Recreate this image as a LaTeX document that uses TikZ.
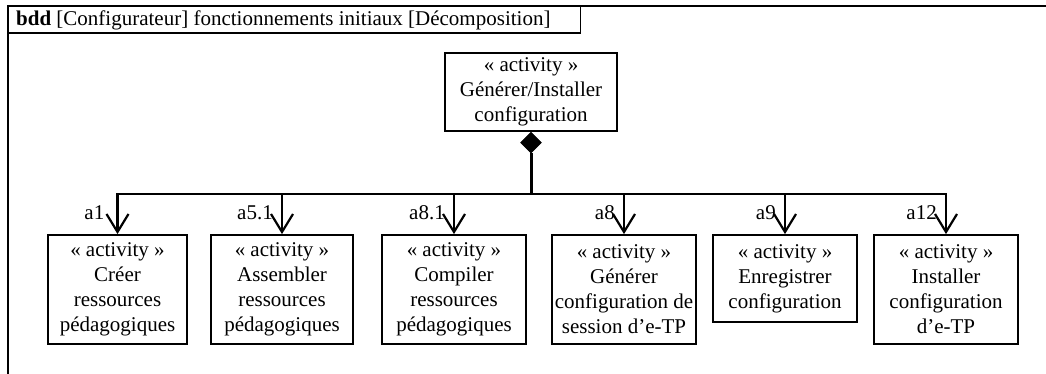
\documentclass[tikz,border=0pt]{standalone}
\usepackage{fontspec}
\setmainfont{Liberation Serif}
\usetikzlibrary{arrows.meta,shapes.geometric}
\begin{document}
\begin{tikzpicture}[x=1pt,y=-1pt,
  every node/.style={font=\fontsize{21}{25}\selectfont},
  frameline/.style={line width=1.6pt},
  actbox/.style={draw, line width=1.8pt, align=center, inner sep=0pt},
  conn/.style={line width=2.2pt, -{Straight Barb[length=18pt,width=22pt]}},
  lbl/.style={anchor=base east, inner sep=0pt}]
\useasboundingbox (0,0) rectangle (1046,374);
% frame
\draw[frameline] (1046,6) -- (8,6) -- (8,374);
\node[anchor=base west, inner sep=0pt] (title) at (16,26)
  {\textbf{bdd} [Configurateur] fonctionnements initiaux [Décomposition]};
\coordinate (tabtop) at (0,6);
\draw[frameline] (8,33) -| ([xshift=30pt]title.east |- tabtop);
% parent
\node[actbox, minimum width=172pt, minimum height=78pt] (p) at (531,92)
  {« activity »\\Générer/Installer\\configuration};
\node[diamond, draw, fill=black, inner sep=0pt, minimum width=21pt, minimum height=21pt, anchor=north] (d) at (p.south) {};
% children
\node[actbox, minimum width=139pt, minimum height=109pt] (c1) at (117.5,289.5)
  {« activity »\\Créer\\ressources\\pédagogiques};
\node[actbox, minimum width=142pt, minimum height=109pt] (c2) at (282,289.5)
  {« activity »\\Assembler\\ressources\\pédagogiques};
\node[actbox, minimum width=144pt, minimum height=109pt] (c3) at (454,289.5)
  {« activity »\\Compiler\\ressources\\pédagogiques};
\node[actbox, minimum width=144pt, minimum height=109pt] (c4) at (624,289.5)
  {« activity »\\Générer\\configuration de\\session d’e-TP};
\node[actbox, minimum width=144pt, minimum height=87pt] (c5) at (785,278.5)
  {« activity »\\Enregistrer\\configuration};
\node[actbox, minimum width=144pt, minimum height=109pt] (c6) at (946,289.5)
  {« activity »\\Installer\\configuration\\d’e-TP};
% connectors
\coordinate (busy) at (0,194);
\coordinate (j) at (d.south |- busy);
\draw[line width=3pt] (d.south) -- (j);
\foreach \c in {c1,c2,c3,c4,c5,c6}
  \draw[conn] (d.south) -- (j) -| (\c.north);
% labels
\node[lbl] (l1) at ([shift={(-13pt,15pt)}]c1.north) {a1};
\node[lbl] (l2) at ([shift={(-9pt,15pt)}]c2.north) {a5.1};
\node[lbl] (l3) at ([shift={(-9pt,15pt)}]c3.north) {a8.1};
\node[lbl] (l4) at ([shift={(-9pt,15pt)}]c4.north) {a8};
\node[lbl] (l5) at ([shift={(-9pt,15pt)}]c5.north) {a9};
\node[lbl] (l6) at ([shift={(-9pt,15pt)}]c6.north) {a12};
\end{tikzpicture}
\end{document}
